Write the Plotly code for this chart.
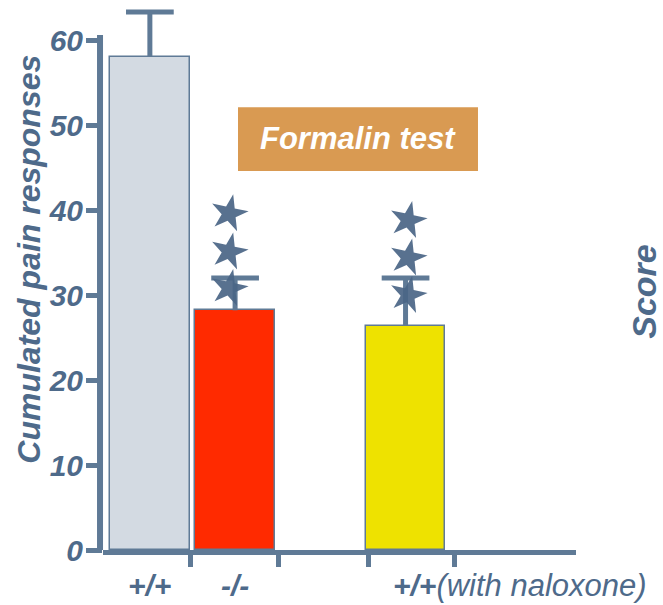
import plotly.graph_objects as go

# Group data: cumulated pain responses (formalin test)
groups = ["+/+", "-/-", "+/+ (with naloxone)"]
positions = [0, 1, 3]
means = [58.0, 28.2, 26.4]
errors = [5.3, 3.8, 5.6]
bar_colors = ["#d3dae2", "#ff2a00", "#eee200"]

# Significance stars stacked above the mutant and naloxone groups
star_x = [0.93, 0.93, 0.93, 3.03, 3.03, 3.03]
star_y = [30.8, 35.1, 39.6, 30.0, 34.4, 38.8]

y_ticks = [0, 10, 20, 30, 40, 50, 60]
x_tick_marks = [0.48, 1.51, 2.56, 3.58]
y_axis_top = 60.6

axis_col = "#5f7a96"
text_col = "#4e6a8a"
font_family = "Liberation Sans, Arial, sans-serif"

fig = go.Figure()

fig.add_trace(go.Bar(
    x=positions, y=means, width=0.935,
    marker=dict(color=bar_colors, line=dict(color=axis_col, width=1.5)),
    showlegend=False, hoverinfo="skip",
))

# Upper-only error bars: a stem from the bar top and a cap at mean + SEM
cap_half = 0.28
ex, ey = [], []
for p, m, e in zip(positions, means, errors):
    ex += [p, p, None, p - cap_half, p + cap_half, None]
    ey += [m, m + e, None, m + e, m + e, None]
fig.add_trace(go.Scatter(
    x=ex, y=ey, mode="lines", line=dict(color=axis_col, width=5),
    showlegend=False, hoverinfo="skip",
))

fig.add_trace(go.Scatter(
    x=star_x, y=star_y, mode="markers",
    marker=dict(symbol="star", size=28, color="#4a6585", angle=12,
                opacity=0.92, line=dict(width=0)),
    showlegend=False, hoverinfo="skip",
))

fig.update_layout(
    width=663, height=605,
    margin=dict(l=103, r=87, t=6, b=55),
    paper_bgcolor="white", plot_bgcolor="white",
    font=dict(family=font_family, color=text_col),
    bargap=0,
)

fig.update_xaxes(
    range=[-0.55, 5.0], showgrid=False, zeroline=False,
    showline=True, linecolor=axis_col, linewidth=5,
    tickmode="array", tickvals=x_tick_marks, ticktext=["", "", "", ""],
    ticks="outside", ticklen=12, tickwidth=5, tickcolor=axis_col,
)
fig.update_yaxes(
    range=[0, 64], showgrid=False, zeroline=False, showline=False,
    tickmode="array", tickvals=y_ticks, ticktext=[str(v) for v in y_ticks],
    ticks="outside", ticklen=16, tickwidth=5, tickcolor=axis_col,
    ticklabelstandoff=-3,
    tickfont=dict(family=font_family, size=30, color=text_col,
                  weight="bold", style="italic"),
)

# Y axis spine, stopping just above the top tick
fig.add_shape(type="line", xref="paper", yref="y", x0=-0.0063, x1=-0.0063,
              y0=-0.6, y1=y_axis_top, line=dict(color=axis_col, width=6))

label_y = (550 - 585) / 544
annotations = [
    dict(text="Cumulated pain responses", xref="paper", yref="paper",
         x=-0.157, y=0.535, xanchor="center", yanchor="middle", textangle=-90,
         showarrow=False,
         font=dict(size=32, color=text_col, weight="bold", style="italic")),
    dict(text="Score", xref="paper", yref="paper",
         x=1.142, y=0.475, xanchor="center", yanchor="middle", textangle=-90,
         showarrow=False,
         font=dict(size=34, color=text_col, weight="bold", style="italic")),
    dict(text="<b>+/+</b>", xref="x", yref="paper", x=positions[0], y=label_y,
         xanchor="center", yanchor="middle", showarrow=False,
         font=dict(size=30, color=text_col, style="italic")),
    dict(text="<b>-/-</b>", xref="x", yref="paper", x=positions[1], y=label_y,
         xanchor="center", yanchor="middle", showarrow=False,
         font=dict(size=30, color=text_col, style="italic")),
    dict(text="<b>+/+</b><span style='font-size:31px'>(with naloxone)</span>",
         xref="x", yref="paper", x=2.83, y=label_y,
         xanchor="left", yanchor="middle", showarrow=False,
         font=dict(size=30, color=text_col, style="italic")),
    dict(text="Formalin test", xref="x", yref="y", x=2.44, y=48.4,
         xanchor="center", yanchor="middle", showarrow=False,
         font=dict(size=31, color="white", weight="bold", style="italic")),
]
fig.update_layout(annotations=annotations)

fig.add_shape(type="rect", xref="x", yref="y", x0=1.034, x1=3.85, y0=44.6, y1=52.1,
              fillcolor="#d99a52", line=dict(width=0), layer="below")

fig.write_html("out.html")
